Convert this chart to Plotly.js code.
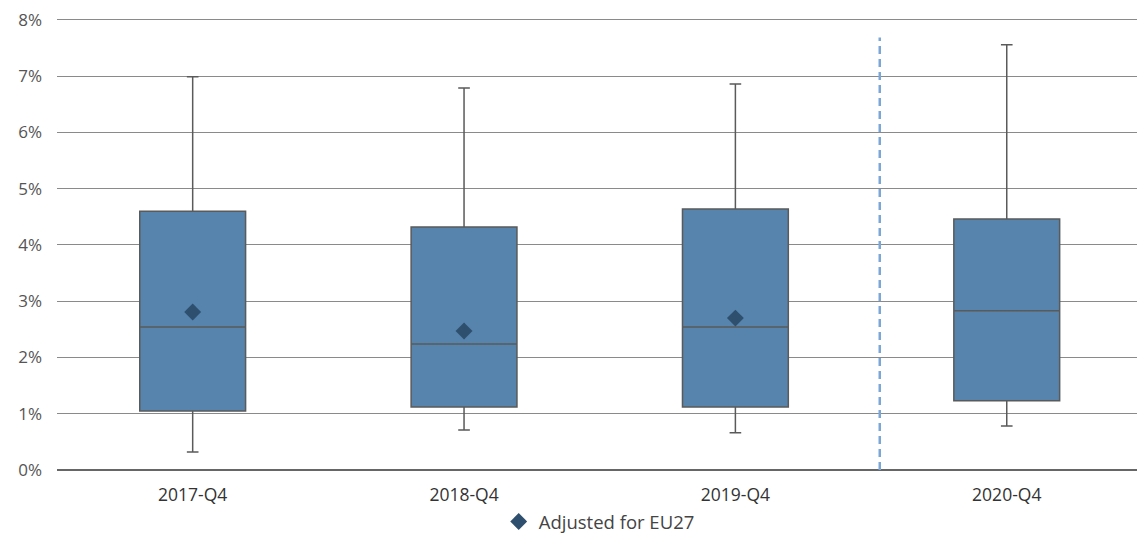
<!DOCTYPE html>
<html>
<head>
<meta charset="utf-8">
<script src="https://cdn.plot.ly/plotly-3.0.1.min.js"></script>
<style>html,body{margin:0;padding:0;background:#fff;}#chart{width:1137px;height:534px;}</style>
</head>
<body>
<div id="chart"></div>
<script>
const categories = ["2017-Q4", "2018-Q4", "2019-Q4", "2020-Q4"];
const lowerWhisker = [0.32, 0.71, 0.66, 0.78];
const q1Values = [1.05, 1.12, 1.12, 1.23];
const medianValues = [2.54, 2.24, 2.54, 2.83];
const q3Values = [4.60, 4.32, 4.64, 4.46];
const upperWhisker = [6.99, 6.79, 6.86, 7.56];
const meanCategories = ["2017-Q4", "2018-Q4", "2019-Q4"];
const meanValues = [2.81, 2.47, 2.70];
const legendLabel = "Adjusted for EU27";
const yTicks = [0, 1, 2, 3, 4, 5, 6, 7, 8];

const boxTrace = {
  type: "box",
  x: categories,
  q1: q1Values,
  median: medianValues,
  q3: q3Values,
  lowerfence: lowerWhisker,
  upperfence: upperWhisker,
  fillcolor: "rgb(87,132,173)",
  line: {color: "#5a5a5a", width: 1.5},
  whiskerwidth: 0.11,
  width: 0.39,
  boxpoints: false,
  showlegend: false,
  hoverinfo: "skip"
};

const meanTrace = {
  type: "scatter",
  mode: "markers",
  x: meanCategories,
  y: meanValues,
  name: legendLabel,
  marker: {symbol: "diamond", size: 13, color: "#2e4f6e"}
};

const layout = {
  width: 1137,
  height: 534,
  margin: {l: 57, r: 0, t: 17, b: 64},
  paper_bgcolor: "#fff",
  plot_bgcolor: "#fff",
  font: {family: "Open Sans, sans-serif", color: "#444", size: 17},
  xaxis: {
    type: "category",
    categoryorder: "array",
    categoryarray: categories,
    range: [-0.5, 3.48],
    showgrid: false,
    zeroline: false,
    showline: false,
    ticks: "",
    ticklabelstandoff: 12,
    tickfont: {size: 17.5, color: "#333"},
    automargin: false
  },
  yaxis: {
    range: [0, 8.053],
    tickvals: yTicks,
    ticktext: yTicks.map(v => v + "%"),
    showgrid: true,
    gridcolor: "#8a8a8a",
    gridwidth: 1,
    zeroline: true,
    zerolinecolor: "#666",
    zerolinewidth: 1.5,
    showline: false,
    ticks: "",
    ticklen: 0,
    ticklabelstandoff: 14,
    tickfont: {size: 17, color: "#555"},
    automargin: false
  },
  showlegend: true,
  legend: {
    orientation: "h",
    x: 0.527,
    xanchor: "center",
    xref: "container",
    yref: "container",
    y: 0.0225,
    yanchor: "middle",
    font: {size: 18.5, color: "#444"},
    bgcolor: "rgba(0,0,0,0)"
  },
  shapes: [{
    type: "line",
    xref: "x",
    yref: "paper",
    x0: 2.532,
    x1: 2.532,
    y0: 0,
    y1: 0.955,
    line: {color: "#7ba7d7", width: 2.5, dash: "8px,5px"}
  }]
};

Plotly.newPlot("chart", [boxTrace, meanTrace], layout, {displayModeBar: false, staticPlot: true});
</script>
</body>
</html>
